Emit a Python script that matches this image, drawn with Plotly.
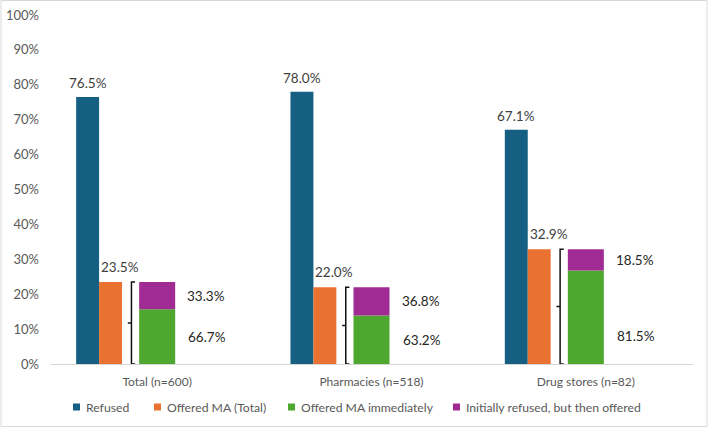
import plotly.graph_objects as go

categories = ["Total (n=600)", "Pharmacies (n=518)", "Drug stores (n=82)"]
refused = [76.5, 78.0, 67.1]
offered_total = [23.5, 22.0, 32.9]
share_immediately = [66.7, 63.2, 81.5]      # % of offered
share_initially_refused = [33.3, 36.8, 18.5]  # % of offered
y_ticks = [0, 10, 20, 30, 40, 50, 60, 70, 80, 90, 100]
legend_names = ["Refused", "Offered MA (Total)", "Offered MA immediately", "Initially refused, but then offered"]

C_BLUE = "#156082"
C_ORANGE = "#E97132"
C_GREEN = "#4EA72E"
C_PURPLE = "#A02B93"
legend_colors = [C_BLUE, C_ORANGE, C_GREEN, C_PURPLE]
FONT = "Lato"
GREY = "#595959"

# layout geometry (pixels)
W, H = 709, 428
ML, MR, MT, MB = 50, 16, 15, 64
PW, PH = W - ML - MR, H - MT - MB


def px_x(p):
    return (p - ML) / PW


def px_y(p):
    return (H - MB - p) / PH


xs = list(range(len(categories)))
green_h = [o * s / 100 for o, s in zip(offered_total, share_immediately)]
purple_h = [o - g for o, g in zip(offered_total, green_h)]

OFF_B, W_B = -0.378, 0.107
OFF_O, W_O = -0.271, 0.107
OFF_G, W_G = -0.084, 0.168

fig = go.Figure()
fig.add_trace(go.Bar(x=xs, y=refused, offset=OFF_B, width=W_B, marker_color=C_BLUE,
                     marker_line_width=0, name=legend_names[0], showlegend=False))
fig.add_trace(go.Bar(x=xs, y=offered_total, offset=OFF_O, width=W_O, marker_color=C_ORANGE,
                     marker_line_width=0, name=legend_names[1], showlegend=False))
fig.add_trace(go.Bar(x=xs, y=green_h, offset=OFF_G, width=W_G, marker_color=C_GREEN,
                     marker_line_width=0, name=legend_names[2], showlegend=False))
fig.add_trace(go.Bar(x=xs, y=purple_h, base=green_h, offset=OFF_G, width=W_G, marker_color=C_PURPLE,
                     marker_line_width=0, name=legend_names[3], showlegend=False))

LBL = 13.5
ann = []
shapes = []
for i in xs:
    ann.append(dict(x=i + OFF_B + W_B / 2, y=refused[i], text=f"{refused[i]:.1f}%", showarrow=False,
                    xanchor="center", yanchor="middle", yshift=14,
                    font=dict(size=LBL, color="#404040", family=FONT)))
    ann.append(dict(x=i + OFF_O, y=offered_total[i], text=f"{offered_total[i]:.1f}%", showarrow=False,
                    xanchor="left", yanchor="middle", yshift=15, xshift=0,
                    font=dict(size=LBL, color="#404040", family=FONT)))
    ann.append(dict(x=i + OFF_G + W_G, y=green_h[i] + purple_h[i] / 2, text=f"{share_initially_refused[i]:.1f}%",
                    showarrow=False, xanchor="left", yanchor="middle", xshift=10,
                    font=dict(size=LBL, color="#262626", family=FONT)))
    ann.append(dict(x=i + OFF_G + W_G, y=min(green_h[i] / 2, 8.0), text=f"{share_immediately[i]:.1f}%",
                    showarrow=False, xanchor="left", yanchor="middle", xshift=11,
                    font=dict(size=LBL, color="#262626", family=FONT)))
    xv, xs_, xt = i - 0.12, i - 0.103, i - 0.137
    top = offered_total[i]
    mid = top / 2
    shapes.append(dict(type="path", xref="x", yref="y",
                       path=f"M{xs_},{top} L{xv},{top} L{xv},0 L{xs_},0 M{xv},{mid} L{xt},{mid}",
                       line=dict(color="#111111", width=1.5)))

# legend (bottom, one row)
legend_square_px = [73, 154, 288, 453]
LEG_Y = 407
for name, col, sx in zip(legend_names, legend_colors, legend_square_px):
    shapes.append(dict(type="rect", xref="paper", yref="paper",
                       x0=px_x(sx), x1=px_x(sx + 7), y0=px_y(LEG_Y + 3.5), y1=px_y(LEG_Y - 3.5),
                       fillcolor=col, line=dict(width=0)))
    ann.append(dict(xref="paper", yref="paper", x=px_x(sx + 11), y=px_y(LEG_Y), text=name,
                    showarrow=False, xanchor="left", yanchor="middle",
                    font=dict(size=12.2, color=GREY, family=FONT)))

# outer border
shapes.append(dict(type="rect", xref="paper", yref="paper",
                   x0=px_x(1), x1=px_x(707), y0=px_y(426.5), y1=px_y(0.5),
                   line=dict(color="#d9d9d9", width=1), fillcolor="rgba(0,0,0,0)", layer="below"))

fig.update_layout(
    width=W, height=H,
    margin=dict(l=ML, r=MR, t=MT, b=MB, autoexpand=False),
    paper_bgcolor="white", plot_bgcolor="white",
    barmode="overlay", showlegend=False,
    font=dict(family=FONT, color=GREY),
    xaxis=dict(range=[-0.5, 2.5], tickvals=xs, ticktext=categories, showgrid=False, zeroline=False,
               showline=True, linecolor="#d9d9d9", linewidth=1, ticks="", ticklabelstandoff=7,
               tickfont=dict(size=12, color=GREY, family=FONT)),
    yaxis=dict(range=[0, 100], tickvals=y_ticks, ticktext=[f"{v}%" for v in y_ticks],
               showgrid=False, zeroline=False, showline=False, ticks="", ticklabelstandoff=10,
               tickfont=dict(size=13, color=GREY, family=FONT)),
    annotations=ann, shapes=shapes,
)

fig.write_html("out.html")
